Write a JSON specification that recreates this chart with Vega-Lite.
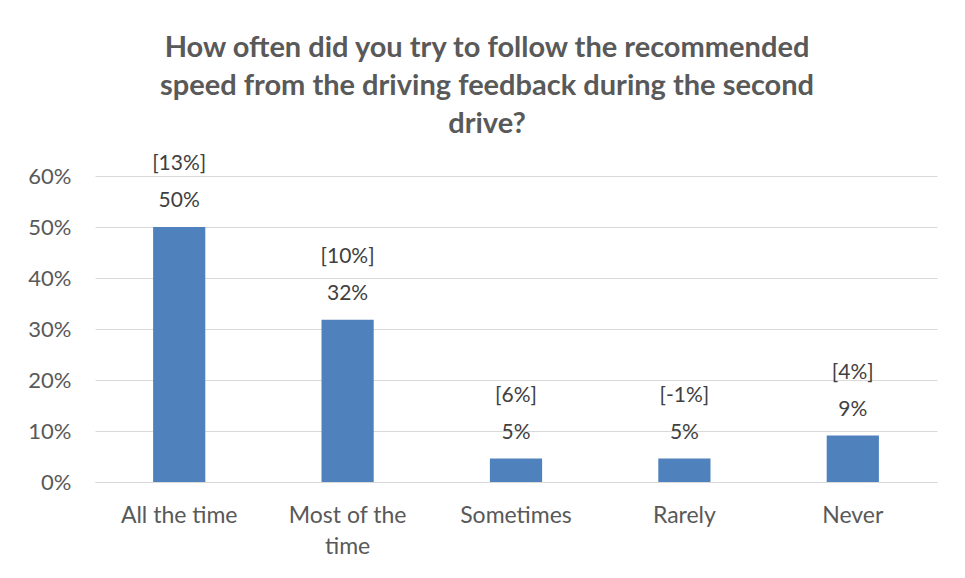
{
  "$schema": "https://vega.github.io/schema/vega-lite/v6.json",
  "width": 842,
  "height": 306,
  "autosize": {"type": "none"},
  "padding": {"left": 95, "top": 176, "right": 28, "bottom": 96},
  "background": "white",
  "title": {
    "text": ["How often did you try to follow the recommended", "speed from the driving feedback during the second", "drive?"],
    "font": "Lato",
    "fontSize": 29,
    "fontWeight": "bold",
    "color": "#595959",
    "lineHeight": 38,
    "anchor": "middle",
    "frame": "group",
    "dx": -29,
    "offset": 14
  },
  "config": {
    "view": {"stroke": null},
    "font": "Lato"
  },
  "data": {
    "values": [
      {"answer": "All the time", "share": 0.50, "pct": "50%", "diff": "[13%]"},
      {"answer": "Most of the time", "share": 0.318, "pct": "32%", "diff": "[10%]"},
      {"answer": "Sometimes", "share": 0.046, "pct": "5%", "diff": "[6%]"},
      {"answer": "Rarely", "share": 0.046, "pct": "5%", "diff": "[-1%]"},
      {"answer": "Never", "share": 0.091, "pct": "9%", "diff": "[4%]"}
    ]
  },
  "encoding": {
    "x": {
      "field": "answer",
      "type": "nominal",
      "sort": null,
      "scale": {"paddingInner": 0.69, "paddingOuter": 0.345},
      "axis": {
        "title": null,
        "labelAngle": 0,
        "labelFont": "Lato",
        "labelFontSize": 23,
        "labelColor": "#595959",
        "labelPadding": 22,
        "labelLineHeight": 31,
        "labelOverlap": false,
        "labelExpr": "datum.label == 'Most of the time' ? ['Most of the', 'time'] : datum.label",
        "ticks": false,
        "domainColor": "#d9d9d9",
        "domainWidth": 1
      }
    },
    "y": {
      "field": "share",
      "type": "quantitative",
      "scale": {"domain": [0, 0.6]},
      "axis": {
        "title": null,
        "format": ".0%",
        "values": [0, 0.1, 0.2, 0.3, 0.4, 0.5, 0.6],
        "labelFont": "Lato",
        "labelFontSize": 22,
        "labelColor": "#595959",
        "labelPadding": 24,
        "labelOverlap": false,
        "ticks": false,
        "domain": false,
        "gridColor": "#d9d9d9",
        "gridWidth": 1
      }
    }
  },
  "layer": [
    {"mark": {"type": "bar", "color": "#4f81bd"}},
    {
      "mark": {"type": "text", "baseline": "bottom", "dy": -16, "fontSize": 21, "color": "#404040", "font": "Lato"},
      "encoding": {"text": {"field": "pct"}}
    },
    {
      "mark": {"type": "text", "baseline": "bottom", "dy": -53, "fontSize": 21, "color": "#404040", "font": "Lato"},
      "encoding": {"text": {"field": "diff"}}
    }
  ]
}
